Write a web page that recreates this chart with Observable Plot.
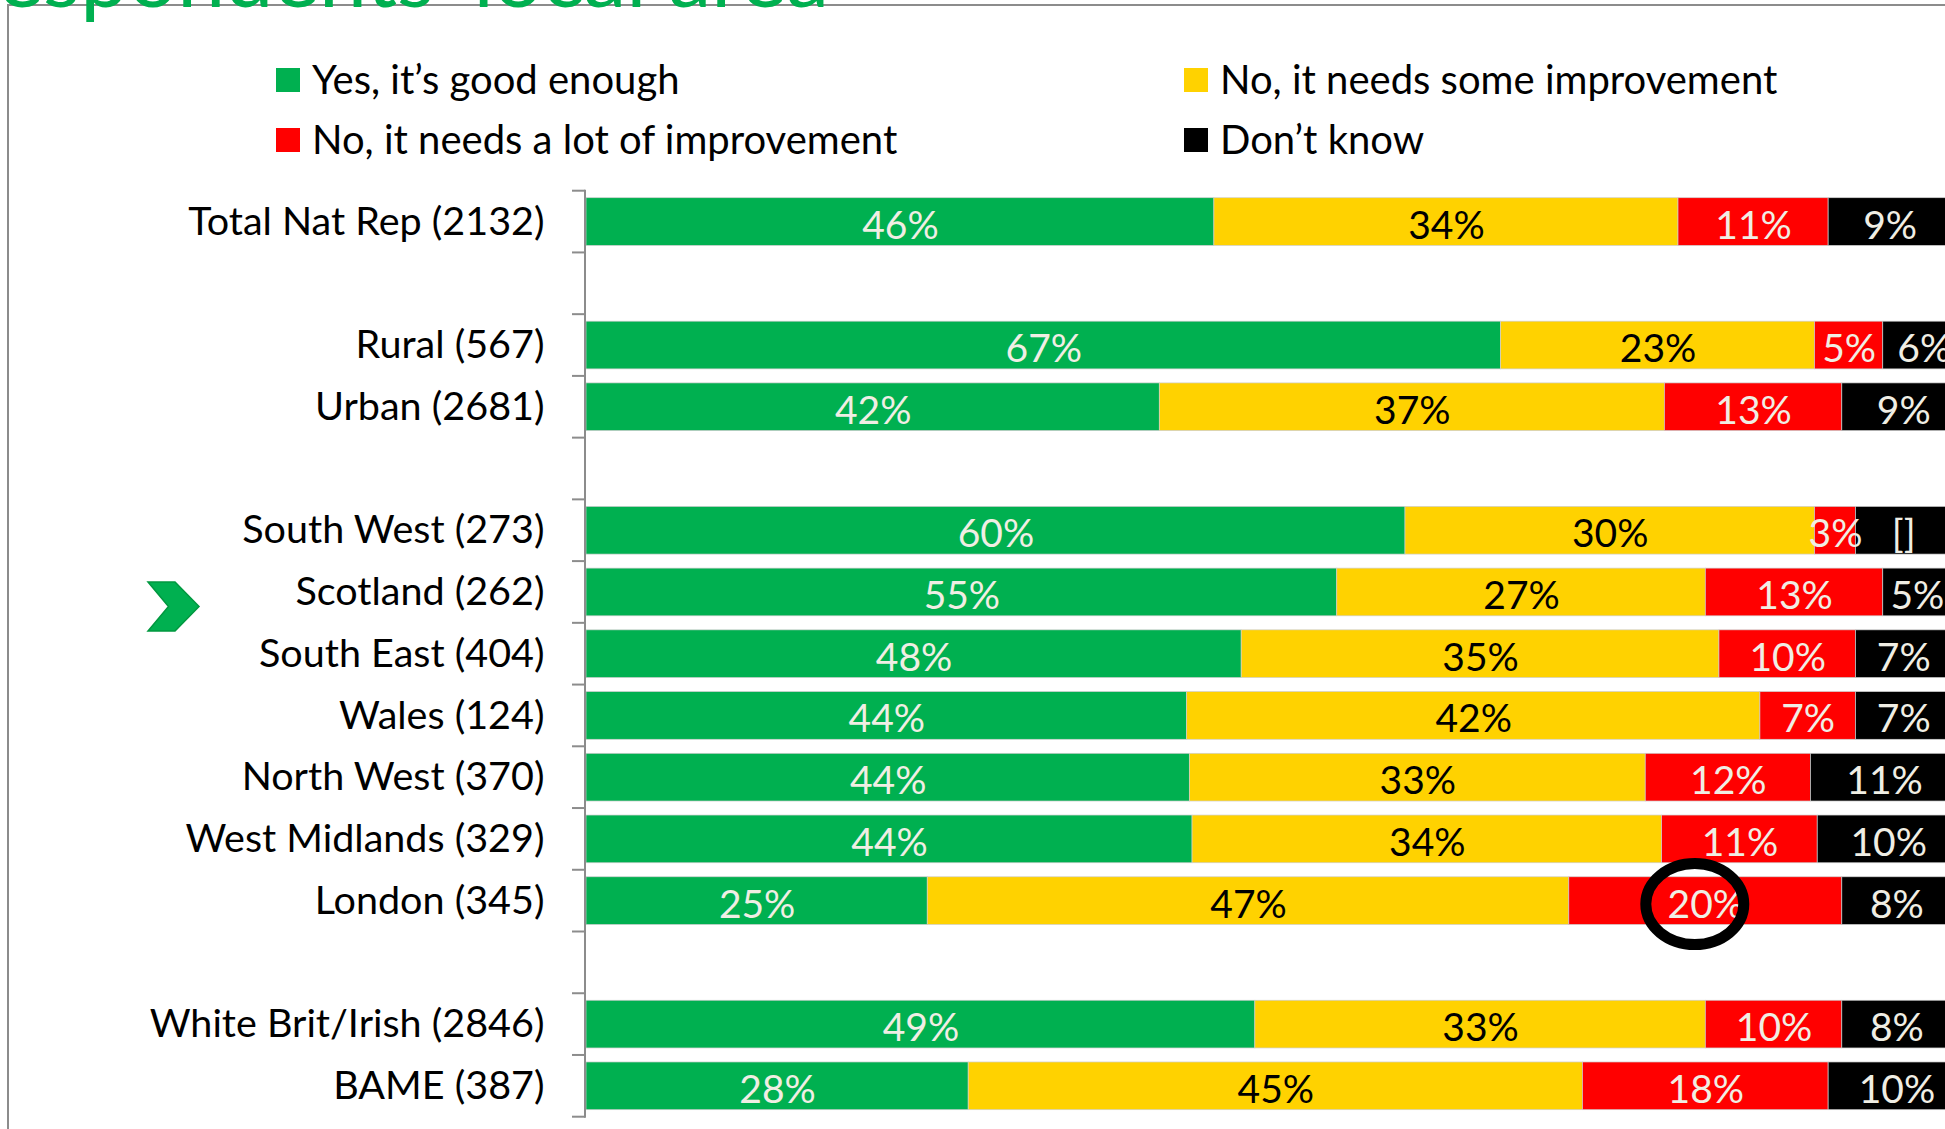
<!DOCTYPE html>
<html><head><meta charset="utf-8">
<script src="https://cdn.jsdelivr.net/npm/d3@7"></script>
<script src="https://cdn.jsdelivr.net/npm/@observablehq/plot@0.6"></script>
<style>
html,body{margin:0;padding:0;background:#fff;}
#page{position:relative;width:1945px;height:1129px;overflow:hidden;font-family:Lato,"Open Sans",sans-serif;}
#frame{position:absolute;left:7px;top:4px;width:2000px;height:1200px;border-top:2px solid #8c8c8c;border-left:2px solid #8c8c8c;}
#title{position:absolute;right:1116px;top:-69px;font-size:86px;line-height:86px;color:#00B050;white-space:nowrap;}
#legend{position:absolute;left:276px;top:49px;display:grid;grid-template-columns:908px auto;grid-auto-rows:60px;font-size:40px;color:#000;}
.item{display:flex;align-items:center;white-space:nowrap;}
.sw{width:24px;height:24px;margin-right:12px;flex:none;position:relative;top:1px;}
#chart{position:absolute;left:0;top:173px;}
</style></head>
<body><div id="page"><div id="frame"></div><div id="title">respondents’ local area</div><div id="legend"></div><div id="chart"></div></div>
<script>
const categories = ["Total Nat Rep (2132)", "Rural (567)", "Urban (2681)", "South West (273)", "Scotland (262)", "South East (404)", "Wales (124)", "North West (370)", "West Midlands (329)", "London (345)", "White Brit/Irish (2846)", "BAME (387)"];
const yDomain = ["Total Nat Rep (2132)", " ", "Rural (567)", "Urban (2681)", "  ", "South West (273)", "Scotland (262)", "South East (404)", "Wales (124)", "North West (370)", "West Midlands (329)", "London (345)", "   ", "White Brit/Irish (2846)", "BAME (387)"];
const seriesNames = ["Yes, it’s good enough", "No, it needs some improvement", "No, it needs a lot of improvement", "Don’t know"];
const seriesColors = ["#00B050", "#FFD200", "#FF0000", "#000000"];
const goodEnough      = [46, 67, 42, 60, 55, 48, 44, 44.2, 44.4, 25, 49, 28];
const someImprovement = [34, 23, 37, 30, 27, 35, 42, 33.4, 34.4, 47, 33, 45];
const lotImprovement  = [11,  5, 13,  3, 13, 10,  7, 12.1, 11.4, 20, 10, 18];
const dontKnow        = [ 9,  6,  9,  7,  5,  7,  7, 10.8, 10.4,  8,  8, 10];
const labelOverrides = {"South West (273)|Don’t know": "[]"};
const highlightRow = "Scotland (262)";
const circledRow = "London (345)";
const circledSeries = "No, it needs a lot of improvement";

const seriesValues = [goodEnough, someImprovement, lotImprovement, dontKnow];
const data = [];
categories.forEach((cat, i) => {
  seriesNames.forEach((s, j) => {
    const v = seriesValues[j][i];
    data.push({cat, series: s, value: v, label: labelOverrides[cat + "|" + s] ?? (Math.round(v) + "%")});
  });
});

// legend
const legend = document.getElementById("legend");
seriesNames.forEach((s, j) => {
  const it = document.createElement("div");
  it.className = "item";
  it.innerHTML = `<span class="sw" style="background:${seriesColors[j]}"></span><span>${s}</span>`;
  legend.appendChild(it);
});

const padInner = 0.227;
function bandInfo(y) {
  const n = yDomain.length;
  const step = (y(yDomain[n - 1]) - y(yDomain[0])) / (n - 1);
  let bw = typeof y.bandwidth === "function" ? y.bandwidth() : y.bandwidth;
  if (!(bw > 0)) bw = step * (1 - padInner);
  return {n, step, bw, top: y(yDomain[0]) - (step - bw) / 2};
}

function axisDecor(index, scales, values, dims) {
  const {n, step, top} = bandInfo(scales.y);
  const g = d3.create("svg:g").attr("stroke", "#8c8c8c").attr("stroke-width", 2);
  const x0 = dims.marginLeft - 1;
  g.append("line").attr("x1", x0).attr("x2", x0).attr("y1", top - 1).attr("y2", top + n * step + 1);
  for (let i = 0; i <= n; i++) {
    g.append("line").attr("x1", x0 - 13).attr("x2", x0).attr("y1", top + i * step).attr("y2", top + i * step);
  }
  return g.node();
}

function chevron(index, scales, values, dims) {
  const {bw} = bandInfo(scales.y);
  const cy = scales.y(highlightRow) + bw / 2 + 14.5;
  const L = dims.marginLeft;
  const pts = [[L - 438, -24.5], [L - 411, -24.5], [L - 387, 0], [L - 411, 24.5], [L - 438, 24.5], [L - 417.5, 0]];
  const g = d3.create("svg:g");
  g.append("polygon")
    .attr("points", pts.map(([x, dy]) => `${x},${cy + dy}`).join(" "))
    .attr("fill", "#00B050").attr("stroke", "#00983f").attr("stroke-width", 1.5).attr("stroke-linejoin", "miter");
  return g.node();
}

function ringMark(index, scales, values, dims) {
  const {bw} = bandInfo(scales.y);
  const i = categories.indexOf(circledRow);
  const j = seriesNames.indexOf(circledSeries);
  let cum = 0;
  for (let k = 0; k < j; k++) cum += seriesValues[k][i];
  cum += seriesValues[j][i] / 2;
  const cx = scales.x(cum) - 10.5;
  const cy = scales.y(circledRow) + bw / 2 + 3.4;
  const g = d3.create("svg:g");
  g.append("ellipse").attr("cx", cx).attr("cy", cy).attr("rx", 49).attr("ry", 40.5)
    .attr("fill", "none").attr("stroke", "#000").attr("stroke-width", 11);
  return g.node();
}

const yellow = seriesNames[1];
const stackOpts = {x: "value", y: "cat", z: "series", text: "label"};

const plot = Plot.plot({
  width: 1951,
  height: 956,
  marginLeft: 586,
  marginRight: 0,
  marginTop: 17.7,
  marginBottom: 12.3,
  style: {fontFamily: "Lato, 'Open Sans', sans-serif", fontSize: "39.5px", color: "#000", background: "transparent", maxWidth: "none", overflow: "hidden"},
  x: {domain: [0, 100], axis: null},
  y: {domain: yDomain, round: false, paddingInner: padInner, paddingOuter: padInner / 2, tickSize: 0, tickPadding: 42, label: null},
  color: {domain: seriesNames, range: seriesColors},
  marks: [
    Plot.barX(data, Plot.stackX({x: "value", y: "cat", z: "series", fill: "series", stroke: "#cfcfcf", strokeWidth: 0.7})),
    Plot.text(data, Plot.filter(d => d.series === yellow, Plot.stackX({...stackOpts, fill: "#000", fontSize: 39, dy: 4}))),
    Plot.text(data, Plot.filter(d => d.series !== yellow, Plot.stackX({...stackOpts, fill: "#f0eee4", fontSize: 39, dy: 4}))),
    axisDecor,
    chevron,
    ringMark
  ]
});
document.getElementById("chart").appendChild(plot);
</script></body></html>
